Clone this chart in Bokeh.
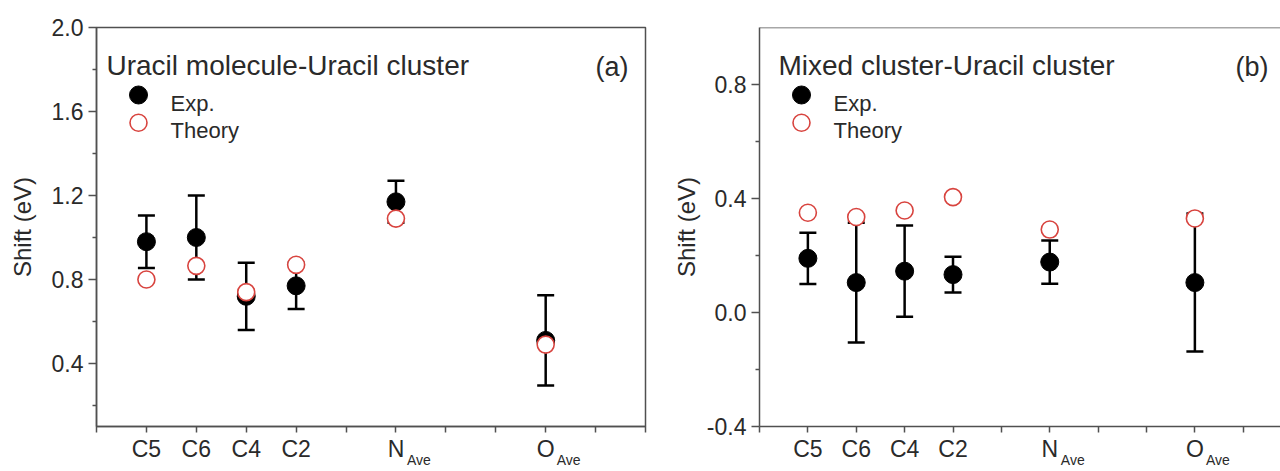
from bokeh.plotting import figure
from bokeh.layouts import row
from bokeh.models import (Range1d, FixedTicker, PrintfTickFormatter, Whisker, TeeHead,
                          ColumnDataSource, Label, Span, LinearAxis)
from bokeh.embed import file_html
from bokeh.resources import INLINE

# ---------------- data ----------------
categories = ["C5", "C6", "C4", "C2", "N", "O"]
subscripts = ["", "", "", "", "Ave", "Ave"]
positions = [1, 2, 3, 4, 6, 9]

exp_a = [0.98, 1.00, 0.72, 0.77, 1.17, 0.51]
err_a = [0.125, 0.20, 0.16, 0.11, 0.10, 0.215]
theory_a = [0.80, 0.865, 0.74, 0.87, 1.09, 0.49]

exp_b = [0.19, 0.105, 0.145, 0.133, 0.177, 0.105]
err_b = [0.09, 0.21, 0.16, 0.063, 0.076, 0.242]
theory_b = [0.35, 0.335, 0.358, 0.405, 0.291, 0.33]

yticks_a = [0.4, 0.8, 1.2, 1.6, 2.0]
yminor_a = [0.2, 0.6, 1.0, 1.4, 1.8]
yticks_b = [-0.4, 0.0, 0.4, 0.8]
yminor_b = [-0.2, 0.2, 0.6]

title_a = "Uracil molecule-Uracil cluster"
title_b = "Mixed cluster-Uracil cluster"
legend_labels = ["Exp.", "Theory"]
y_label = "Shift (eV)"

# ---------------- style ----------------
FONT = "Liberation Sans"
AX = "#505050"
TXT = "#2a2a2a"
RED = "#d8443f"
HEIGHT = 470
BTOP = 27
BBOT = 41
FRAME_H = HEIGHT - BTOP - BBOT


def make_panel(width, border_left, border_right, xr, yr, yt, ym, exp, err, th,
               title, tag, tag_dx, title_dx, label_standoff, outline=True, xticks_max=11):
    p = figure(width=width, height=HEIGHT, x_range=Range1d(*xr), y_range=Range1d(*yr),
               output_backend="svg", toolbar_location=None,
               min_border_left=border_left, min_border_right=border_right,
               min_border_top=BTOP, min_border_bottom=BBOT)
    frame_w = width - border_left - border_right
    ppu = frame_w / (xr[1] - xr[0])
    p.grid.visible = False
    p.background_fill_color = "white"
    p.border_fill_color = "white"
    if outline:
        p.outline_line_color = AX
        p.outline_line_width = 1.5
    else:
        p.outline_line_color = None
        p.add_layout(Span(location=yr[1], dimension="width", line_color=AX,
                          line_width=1.5))

    # axes
    xa = p.below[0]
    xa.ticker = FixedTicker(ticks=list(range(0, xticks_max + 1)))
    overrides = {i: "" for i in range(0, xticks_max + 1)}
    for pos, cat in zip(positions, categories):
        overrides[pos] = cat
    xa.major_label_overrides = overrides
    xa.major_tick_out = 6
    xa.major_tick_in = 0
    xa.major_label_standoff = 3

    ya = p.left[0]
    ya.ticker = FixedTicker(ticks=yt, minor_ticks=ym)
    ya.formatter = PrintfTickFormatter(format="%.1f")
    ya.major_tick_out = 8
    ya.major_tick_in = 0
    ya.minor_tick_out = 4
    ya.minor_tick_in = 0
    ya.major_label_standoff = 5
    ya.axis_label = y_label
    ya.axis_label_standoff = label_standoff
    ya.axis_label_text_font_style = "normal"
    ya.axis_label_text_font = FONT
    ya.axis_label_text_font_size = "24px"
    ya.axis_label_text_color = TXT

    for a in (xa, ya):
        a.axis_line_color = AX
        a.axis_line_width = 1.5
        a.major_tick_line_color = AX
        a.major_tick_line_width = 1.5
        a.minor_tick_line_color = AX if a is ya else None
        a.minor_tick_line_width = 1.5
        a.major_label_text_font = FONT
        a.major_label_text_font_size = "23px"
        a.major_label_text_color = TXT

    # subscripts for N_Ave, O_Ave: a second, line-less axis just under the first
    sub_ticks = [pos + 23.0 / ppu for pos, sub in zip(positions, subscripts) if sub]
    sub_texts = [sub for sub in subscripts if sub]
    ax2 = LinearAxis(ticker=FixedTicker(ticks=sub_ticks),
                     major_label_overrides={t: s for t, s in zip(sub_ticks, sub_texts)},
                     axis_line_color=None, major_tick_line_color=None,
                     minor_tick_line_color=None, major_tick_out=0, major_tick_in=0,
                     major_label_standoff=-13, major_label_text_font=FONT,
                     major_label_text_font_size="14px", major_label_text_color=TXT)
    p.add_layout(ax2, "below")

    # data
    src = ColumnDataSource(dict(
        x=positions, exp=exp, theory=th,
        upper=[e + d for e, d in zip(exp, err)],
        lower=[e - d for e, d in zip(exp, err)],
    ))
    wh = Whisker(source=src, base="x", upper="upper", lower="lower",
                 line_color="black", line_width=2.5,
                 upper_head=TeeHead(size=17, line_color="black", line_width=2.5),
                 lower_head=TeeHead(size=17, line_color="black", line_width=2.5),
                 level="underlay")
    p.add_layout(wh)
    p.scatter(x="x", y="exp", source=src, size=18, marker="circle",
              fill_color="black", line_color="black")
    p.scatter(x="x", y="theory", source=src, size=17, marker="circle",
              fill_color="white", line_color=RED, line_width=1.6)

    # title and panel tag
    p.add_layout(Label(x=xr[0], y=yr[1], x_offset=title_dx, y_offset=-38,
                       text=title, text_font=FONT, text_font_size="28px",
                       text_color=TXT, text_baseline="alphabetic"))
    p.add_layout(Label(x=xr[1], y=yr[1], x_offset=tag_dx, y_offset=-39,
                       text=tag, text_font=FONT, text_font_size="27px",
                       text_color=TXT, text_align="right", text_baseline="alphabetic"))

    # legend (manual, placed relative to frame)
    def fx(dx):
        return xr[0] + dx / frame_w * (xr[1] - xr[0])

    def fy(dy):
        return yr[1] - dy / FRAME_H * (yr[1] - yr[0])

    p.scatter(x=[fx(42)], y=[fy(68)], size=18, marker="circle",
              fill_color="black", line_color="black")
    p.scatter(x=[fx(42)], y=[fy(96)], size=17, marker="circle",
              fill_color="white", line_color=RED, line_width=1.6)
    for lab, dy in zip(legend_labels, [-76, -103]):
        p.add_layout(Label(x=xr[0], y=yr[1], x_offset=74, y_offset=dy, text=lab,
                           text_font=FONT, text_font_size="22px", text_color=TXT,
                           text_baseline="alphabetic"))
    return p


p1 = make_panel(668, 96, 23, (0, 11), (0.1, 2.0), yticks_a, yminor_a,
                exp_a, err_a, theory_a, title_a, "(a)", -17, 10, 13,
                outline=True, xticks_max=11)
p2 = make_panel(612, 91, 0, (0, 10.77), (-0.4, 1.0), yticks_b, yminor_b,
                exp_b, err_b, theory_b, title_b, "(b)", -12, 19, 4,
                outline=False, xticks_max=10)

layout = row(p1, p2, spacing=0)
open("out.html", "w").write(file_html(layout, INLINE))
